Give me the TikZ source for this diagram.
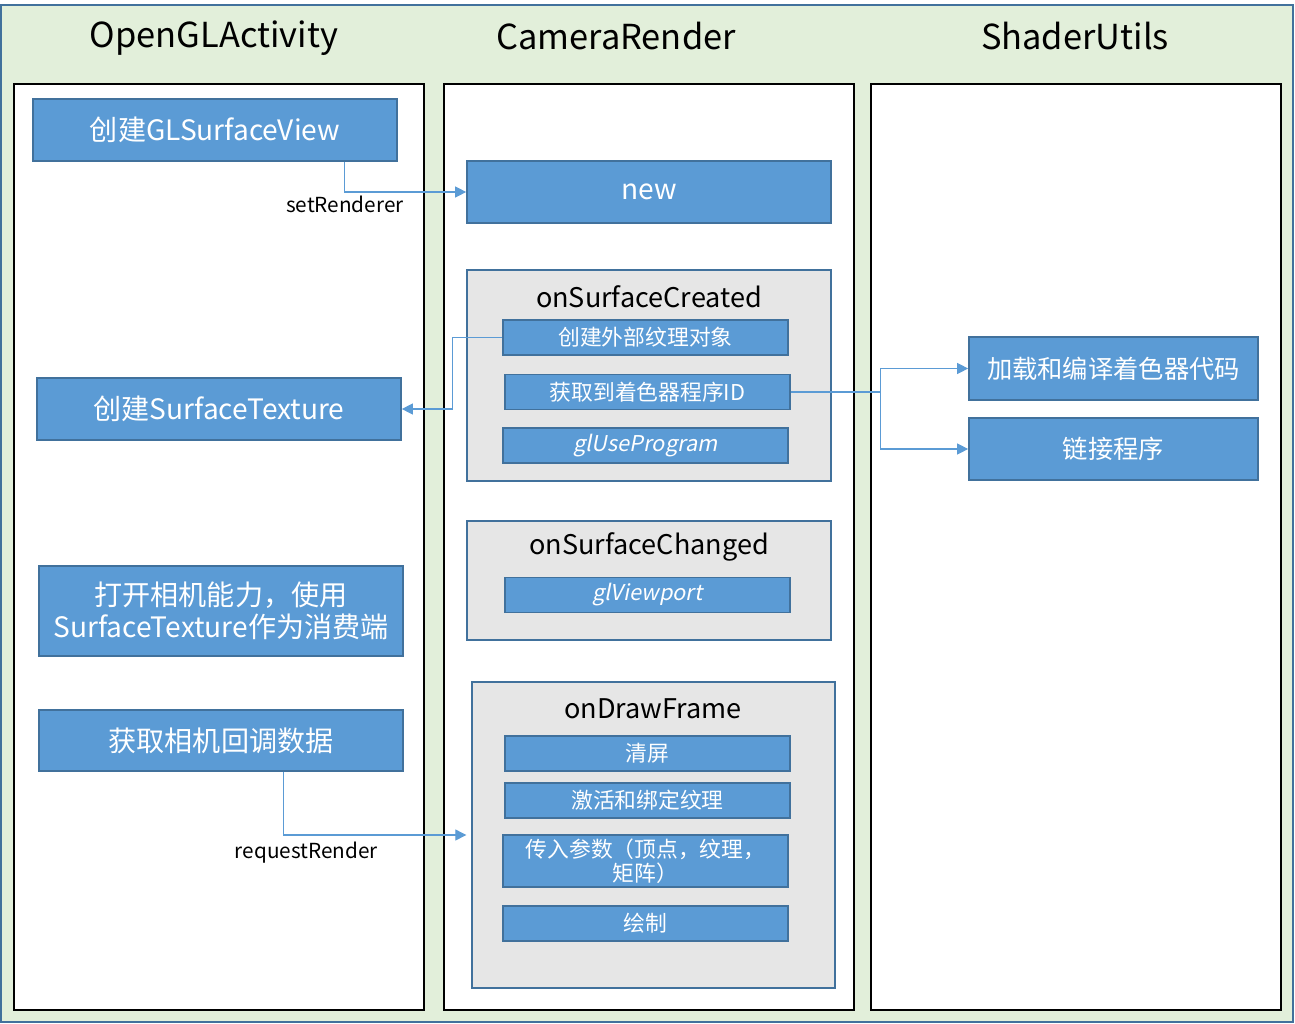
\documentclass[tikz,border=0pt]{standalone}
\usepackage{fontspec}
\setmainfont{Noto Sans CJK SC}[ItalicFont=Noto Sans CJK SC, ItalicFeatures={FakeSlant=0.2}]
\usepackage{xcolor}
\usetikzlibrary{positioning,arrows.meta}

\definecolor{bgGreen}{HTML}{E2EFDA}
\definecolor{frameBlue}{HTML}{41719C}
\definecolor{boxBlue}{HTML}{5B9BD5}
\definecolor{panelGray}{HTML}{E6E6E6}

\begin{document}
\begin{tikzpicture}[x=0.02cm, y=-0.02cm,
	column/.style={draw=black, fill=white, line width=1.1pt},
	step box/.style={rectangle, fill=boxBlue, draw=frameBlue, line width=1pt,
		text=white, inner sep=0pt, align=center, font=\fontsize{16}{18.5}\selectfont},
	small box/.style={step box, minimum width=5.7cm, minimum height=0.7cm,
		font=\fontsize{12.4}{14}\selectfont},
	panel/.style={rectangle, fill=panelGray, draw=frameBlue, line width=0.8pt, inner sep=0pt},
	title/.style={font=\fontsize{19.6}{22}\selectfont},
	panel title/.style={font=\fontsize{15.4}{18}\selectfont},
	conn/.style={draw=boxBlue, line width=0.6pt, -{Triangle[length=2.2mm,width=2.2mm]}},
	label/.style={font=\fontsize{11.8}{13}\selectfont}
]
	\useasboundingbox (0,0) rectangle (1295,1024);
	\draw[fill=bgGreen, draw=frameBlue, line width=1.2pt] (1,5) rectangle (1293,1022);

	% columns
	\draw[column] (14,84) rectangle (424,1010);
	\draw[column] (444,84) rectangle (854,1010);
	\draw[column] (871,84) rectangle (1281,1010);
	\node[title] (tAct) at (214,38) {OpenGLActivity};
	\node[title] (tRen) at (616,36) {CameraRender};
	\node[title] (tSha) at (1075,36) {ShaderUtils};

	% OpenGLActivity
	\node[step box, minimum width=7.28cm, minimum height=1.24cm] (glsv) at (215,130) {创建GLSurfaceView};
	\node[step box, minimum width=7.28cm, minimum height=1.24cm] (st) at (219,409) {创建SurfaceTexture};
	\node[step box, minimum width=7.28cm, minimum height=1.8cm] (cam) at (221,611) {打开相机能力，使用\\SurfaceTexture作为消费端};
	\node[step box, minimum width=7.28cm, minimum height=1.22cm] (cb) at (221,740.5) {获取相机回调数据};

	% CameraRender
	\node[step box, minimum width=7.28cm, minimum height=1.24cm] (newr) at (649,192) {new};

	\node[panel, minimum width=7.28cm, minimum height=4.22cm] (created) at (649,375.5) {};
	\node[panel title] (tCreated) at (649,297) {onSurfaceCreated};
	\node[small box] (ext) at (645.5,337.5) {创建外部纹理对象};
	\node[small box] (prog) at (647.5,392) {获取到着色器程序ID};
	\node[small box] (use) at (645.5,445.5) {\itshape glUseProgram};

	\node[panel, minimum width=7.28cm, minimum height=2.38cm] (changed) at (649,580.5) {};
	\node[panel title] (tChanged) at (649,547) {onSurfaceChanged};
	\node[small box] (viewport) at (647.5,595) {\itshape glViewport};

	\node[panel, minimum width=7.26cm, minimum height=6.12cm] (frame) at (653.5,835) {};
	\node[panel title] (tFrame) at (653,709) {onDrawFrame};
	\node[small box] (clear) at (647.5,753.5) {清屏};
	\node[small box] (bind) at (647.5,800.5) {激活和绑定纹理};
	\node[small box, minimum height=1.04cm, font=\fontsize{12.4}{13.5}\selectfont] (params) at (645.5,861) {传入参数（顶点，纹理，\\矩阵）};
	\node[small box] (paint) at (645.5,923.5) {绘制};

	% ShaderUtils
	\node[step box, minimum width=5.78cm, minimum height=1.26cm, font=\fontsize{14.4}{17}\selectfont] (load) at (1113.5,368.5) {加载和编译着色器代码};
	\node[step box, minimum width=5.78cm, minimum height=1.24cm, font=\fontsize{14.4}{17}\selectfont] (link) at (1113.5,449) {链接程序};

	% connectors
	\draw[conn] ([xshift=-1.06cm]glsv.south east) |- (newr.west)
		node[pos=0.5, below, label, text=black, yshift=1.5pt] {setRenderer};
	\draw[conn] (ext.west) -- ++(-1cm,0) |- (st.east);
	\draw[conn] (prog.east) -- ++(1.8cm,0) |- (load.west);
	\draw[conn] (prog.east) -- ++(1.8cm,0) |- (link.west);
	\draw[conn] ([xshift=-2.4cm]cb.south east) |- ([xshift=-0.1cm]frame.west)
		node[pos=0.5, below, label, text=black, xshift=0.45cm, yshift=-0.5pt] {requestRender};
\end{tikzpicture}
\end{document}
